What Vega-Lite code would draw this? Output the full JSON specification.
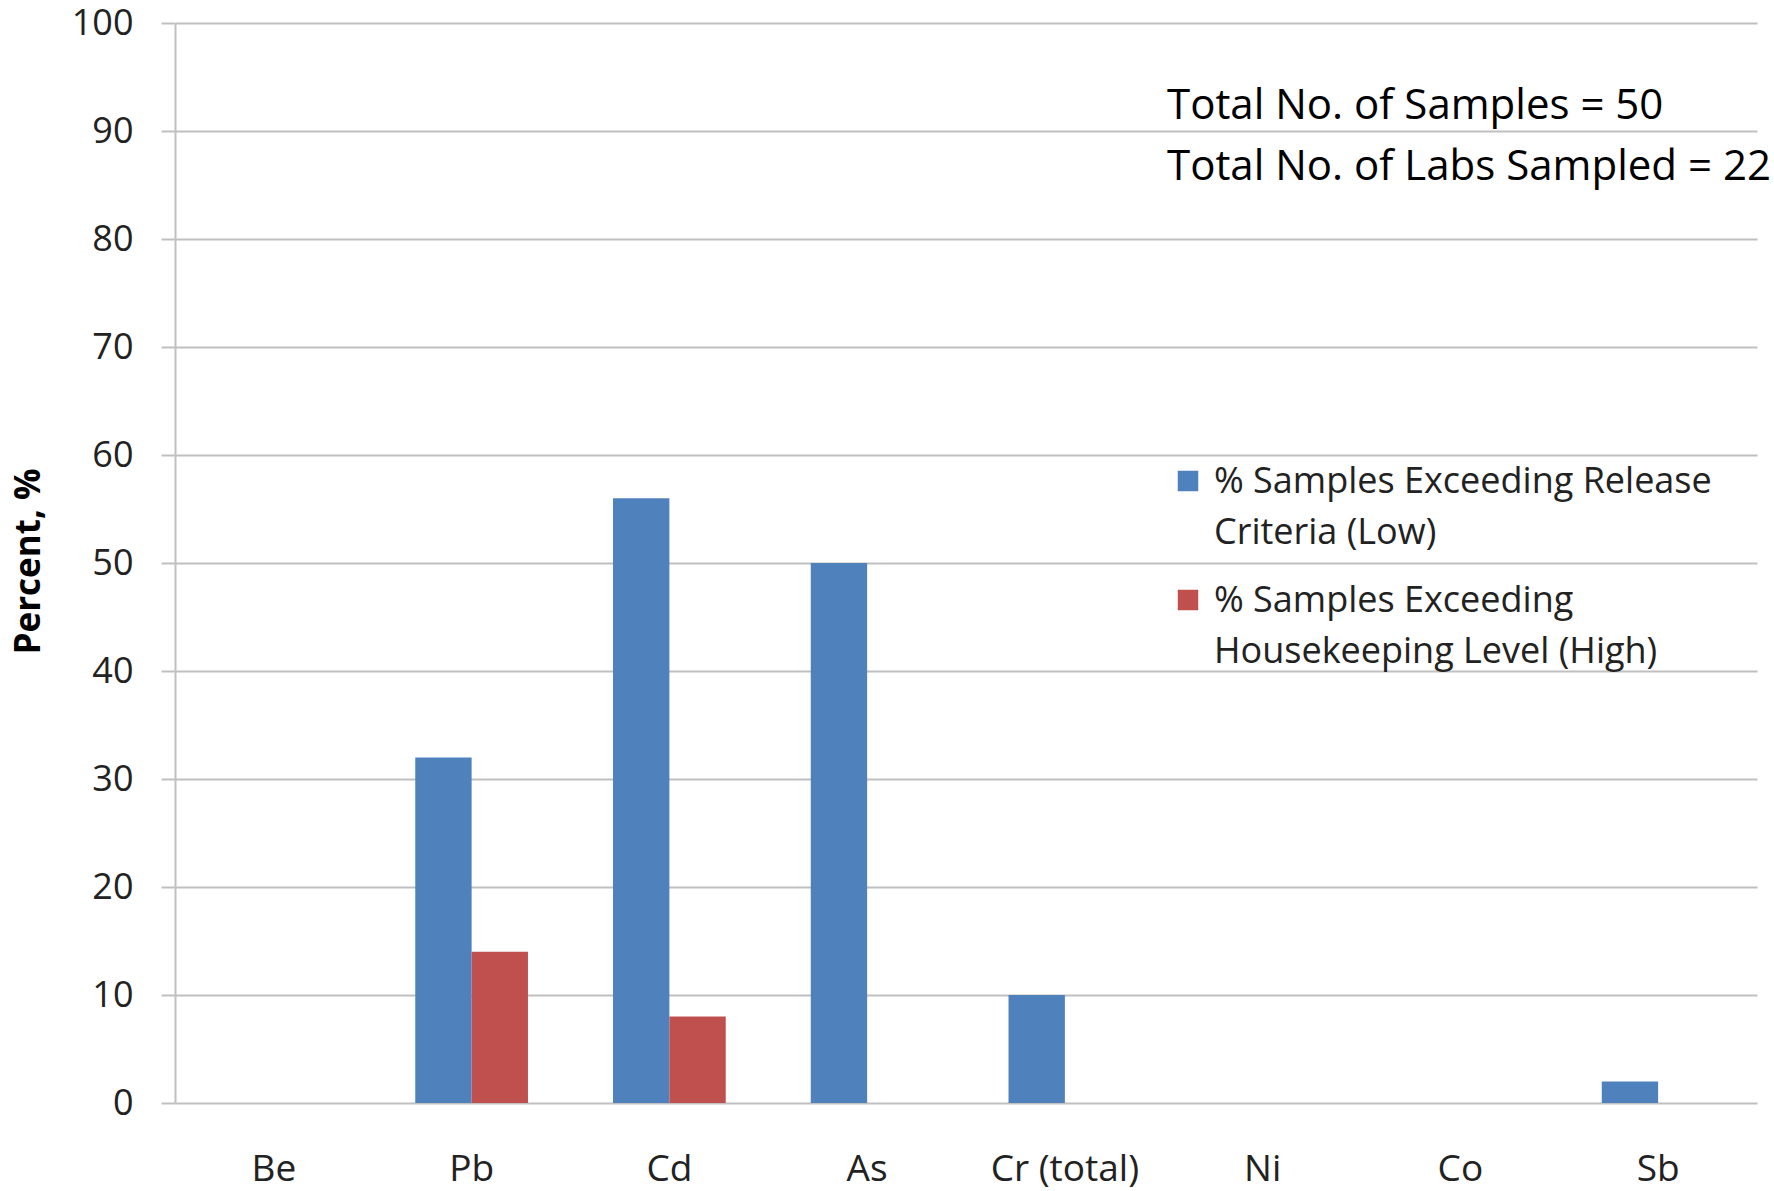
{
  "$schema": "https://vega.github.io/schema/vega-lite/v6.json",
  "autosize": {"type": "none"},
  "padding": {"left": 175, "top": 23, "right": 16, "bottom": 88},
  "width": 1582,
  "height": 1080,
  "background": "white",
  "title": {
    "text": ["Total No. of Samples = 50", "Total No. of Labs Sampled = 22"],
    "orient": "top",
    "anchor": "end",
    "frame": "group",
    "align": "left",
    "baseline": "middle",
    "dx": -590,
    "dy": 208,
    "lineHeight": 61,
    "font": "Open Sans",
    "fontSize": 42,
    "fontWeight": "normal",
    "color": "black"
  },
  "data": {
    "values": [
      {"metal": "Be", "series": "% Samples Exceeding Release Criteria (Low)", "pct": 0},
      {"metal": "Be", "series": "% Samples Exceeding Housekeeping Level (High)", "pct": 0},
      {"metal": "Pb", "series": "% Samples Exceeding Release Criteria (Low)", "pct": 32},
      {"metal": "Pb", "series": "% Samples Exceeding Housekeeping Level (High)", "pct": 14},
      {"metal": "Cd", "series": "% Samples Exceeding Release Criteria (Low)", "pct": 56},
      {"metal": "Cd", "series": "% Samples Exceeding Housekeeping Level (High)", "pct": 8},
      {"metal": "As", "series": "% Samples Exceeding Release Criteria (Low)", "pct": 50},
      {"metal": "As", "series": "% Samples Exceeding Housekeeping Level (High)", "pct": 0},
      {"metal": "Cr (total)", "series": "% Samples Exceeding Release Criteria (Low)", "pct": 10},
      {"metal": "Cr (total)", "series": "% Samples Exceeding Housekeeping Level (High)", "pct": 0},
      {"metal": "Ni", "series": "% Samples Exceeding Release Criteria (Low)", "pct": 0},
      {"metal": "Ni", "series": "% Samples Exceeding Housekeeping Level (High)", "pct": 0},
      {"metal": "Co", "series": "% Samples Exceeding Release Criteria (Low)", "pct": 0},
      {"metal": "Co", "series": "% Samples Exceeding Housekeeping Level (High)", "pct": 0},
      {"metal": "Sb", "series": "% Samples Exceeding Release Criteria (Low)", "pct": 2},
      {"metal": "Sb", "series": "% Samples Exceeding Housekeeping Level (High)", "pct": 0}
    ]
  },
  "mark": {"type": "bar"},
  "encoding": {
    "x": {
      "field": "metal",
      "type": "nominal",
      "sort": ["Be", "Pb", "Cd", "As", "Cr (total)", "Ni", "Co", "Sb"],
      "scale": {"paddingInner": 0.43, "paddingOuter": 0.215},
      "axis": {
        "title": null,
        "labelAngle": 0,
        "ticks": false,
        "domain": false,
        "tickSize": 0,
        "labelPadding": 66,
        "labelBaseline": "middle",
        "labelFont": "Open Sans",
        "labelFontSize": 37,
        "labelColor": "#222222"
      }
    },
    "xOffset": {
      "field": "series",
      "type": "nominal",
      "sort": ["% Samples Exceeding Release Criteria (Low)", "% Samples Exceeding Housekeeping Level (High)"],
      "scale": {"paddingInner": 0, "paddingOuter": 0}
    },
    "y": {
      "field": "pct",
      "type": "quantitative",
      "scale": {"domain": [0, 100], "nice": false},
      "axis": {
        "title": "Percent, %",
        "titleFont": "Open Sans",
        "titleFontSize": 35,
        "titleFontWeight": "bold",
        "titleColor": "black",
        "titleAngle": -90,
        "titleBaseline": "middle",
        "titleAlign": "center",
        "titleX": -147,
        "titleY": 538,
        "values": [0, 10, 20, 30, 40, 50, 60, 70, 80, 90, 100],
        "grid": true,
        "gridColor": "#c0c0c0",
        "gridWidth": 2,
        "domain": true,
        "domainColor": "#c0c0c0",
        "domainWidth": 2,
        "ticks": true,
        "tickSize": 14,
        "tickColor": "#c0c0c0",
        "tickWidth": 2,
        "labelPadding": 28,
        "labelFont": "Open Sans",
        "labelFontSize": 36,
        "labelColor": "#222222"
      }
    },
    "color": {
      "field": "series",
      "type": "nominal",
      "sort": ["% Samples Exceeding Release Criteria (Low)", "% Samples Exceeding Housekeeping Level (High)"],
      "scale": {"range": ["#4F81BD", "#C0504D"]},
      "legend": {
        "title": null,
        "orient": "none",
        "legendX": 995,
        "legendY": 440,
        "symbolType": "square",
        "symbolSize": 420,
        "symbolStrokeWidth": 0,
        "labelFont": "Open Sans",
        "labelFontSize": 36,
        "labelColor": "#222222",
        "labelLimit": 700,
        "labelBaseline": "alphabetic",
        "labelOffset": 8,
        "rowPadding": 31,
        "labelExpr": "datum.label == '% Samples Exceeding Release Criteria (Low)' ? ['% Samples Exceeding Release', 'Criteria (Low)'] : ['% Samples Exceeding', 'Housekeeping Level (High)']",
        "encode": {"labels": {"update": {"dy": {"value": 12}, "lineHeight": {"value": 51}}}}
      }
    }
  },
  "config": {
    "view": {"stroke": null},
    "axis": {"labelFontWeight": "normal"}
  }
}
